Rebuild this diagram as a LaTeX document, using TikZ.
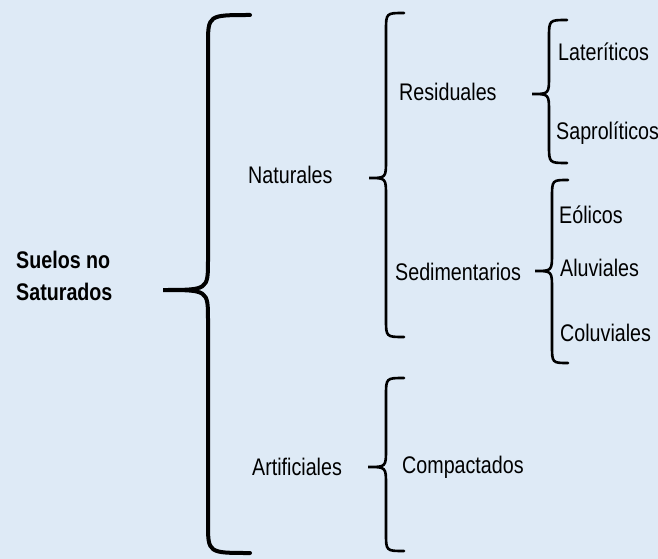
\documentclass[tikz,border=0pt]{standalone}
\usepackage{fontspec}
\setmainfont[FakeStretch=0.82]{Liberation Sans}
\definecolor{bgblue}{RGB}{222,234,246}
\tikzset{
  lbl/.style={anchor=west, inner sep=0pt, font=\fontsize{24}{30}\selectfont},
  bigbr/.style={line width=4pt, line cap=round},
  smbr/.style={line width=2.6pt, line cap=round},
}
% #1 style, #2 xend, #3 xspine, #4 xtip, #5 ytop, #6 ytip, #7 ybot, #8 r
\newcommand\brc[8]{%
  \draw[#1] (#2,-#5) .. controls (#3,-#5) .. (#3,-#5-#8)
     -- (#3,-#6+#8) .. controls (#3,-#6) .. (#4,-#6)
     .. controls (#3,-#6) .. (#3,-#6-#8)
     -- (#3,-#7+#8) .. controls (#3,-#7) .. (#2,-#7);}
\begin{document}
\begin{tikzpicture}[x=1pt,y=1pt]
\fill[bgblue] (0,0) rectangle (658,-559);
\useasboundingbox (0,0) rectangle (658,-559);
% braces
\brc{bigbr}{250}{208}{163}{15}{290}{553}{30}
\brc{smbr}{404}{386}{369}{13}{178}{337}{18}
\brc{smbr}{567}{549}{532}{20}{94}{163}{18}
\brc{smbr}{568}{552}{535}{180}{271}{363}{18}
\brc{smbr}{404}{386}{368}{378}{467}{551}{18}
% labels
\node[lbl, align=left, font=\fontsize{24}{32}\selectfont\bfseries] (suelos) at (16,-276) {Suelos no\\Saturados};
\node[lbl] (nat) at (248,-175) {Naturales};
\node[lbl] (res) at (399,-92) {Residuales};
\node[lbl] (sed) at (395,-272) {Sedimentarios};
\node[lbl] (lat) at (558,-52) {Lateríticos};
\node[lbl] (sap) at (556,-133) {Saprolíticos};
\node[lbl] (eol) at (559,-215) {Eólicos};
\node[lbl] (alu) at (560,-268) {Aluviales};
\node[lbl] (col) at (560,-333) {Coluviales};
\node[lbl] (art) at (252,-467) {Artificiales};
\node[lbl] (com) at (402,-467) {Compactados};
\end{tikzpicture}
\end{document}
